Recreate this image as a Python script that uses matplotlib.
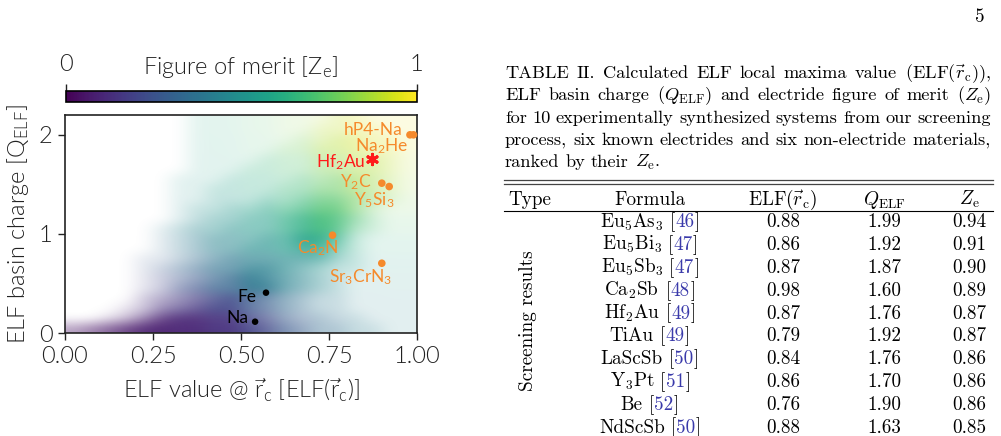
import numpy as np
import matplotlib
matplotlib.use("Agg")
import matplotlib.pyplot as plt
from matplotlib.colors import Normalize
from matplotlib.colorbar import ColorbarBase

W, H = 1001, 436
plt.rcParams['font.family'] = ['Lato', 'DejaVu Sans']
plt.rcParams['font.weight'] = 300
plt.rcParams['mathtext.fontset'] = 'custom'
plt.rcParams['mathtext.rm'] = 'Lato:weight=300'
plt.rcParams['mathtext.it'] = 'Lato:italic:weight=300'
plt.rcParams['mathtext.default'] = 'it'

# ---------------- data ----------------
# background cloud: density (tenths), rows y = 0..2.2 step 0.1 (bottom first), cols x step 0.05
cloud_density = [
    [3,4,5,6,7,8,8,8,8,8,7,6,5,4,3,3,2,2,1,1],
    [0,0,1,2,4,6,7,7,7,7,6,5,4,3,3,2,2,1,1,1],
    [0,0,0,1,2,4,5,6,7,7,6,5,4,3,2,2,1,1,1,1],
    [0,0,0,0,2,3,4,5,6,7,6,5,4,3,2,2,1,1,1,1],
    [0,0,0,0,1,2,4,5,6,6,7,7,5,4,3,2,1,1,1,1],
    [0,0,0,0,1,2,3,4,5,6,7,6,5,4,3,2,1,1,1,1],
    [0,0,0,0,1,2,3,4,5,5,6,6,5,4,3,2,2,1,1,1],
    [0,0,0,0,1,1,2,3,4,5,5,5,5,5,5,3,2,1,1,1],
    [0,0,0,0,0,1,2,3,4,4,5,5,5,6,6,4,2,1,1,1],
    [0,0,0,0,0,1,2,3,4,4,4,5,5,7,7,5,2,1,1,1],
    [0,0,0,0,0,1,2,3,3,4,4,4,5,6,7,6,3,2,1,1],
    [0,0,0,0,0,0,1,2,3,3,4,4,5,6,7,6,4,2,1,1],
    [0,0,0,0,0,0,1,2,2,3,3,4,4,5,6,6,4,2,1,1],
    [0,0,0,0,0,0,1,1,2,2,2,3,3,4,5,5,4,3,2,1],
    [0,0,0,0,0,0,1,1,2,2,2,2,3,3,4,4,4,3,2,1],
    [0,0,0,0,0,0,1,1,1,2,2,2,2,3,3,4,4,3,2,1],
    [0,0,0,0,0,0,0,1,1,1,2,2,2,2,3,3,3,3,2,1],
    [0,0,0,0,0,0,0,1,1,1,1,2,2,2,3,3,3,3,2,1],
    [0,0,0,0,0,0,0,1,1,1,1,1,2,2,3,3,3,2,2,1],
    [0,0,0,0,0,0,0,1,1,1,1,1,1,2,2,3,3,2,2,1],
    [0,0,0,0,0,0,0,1,1,1,1,1,1,1,2,2,2,2,1,1],
    [0,0,0,0,0,0,0,1,1,1,1,1,1,1,1,2,2,1,1,1],
]
# background cloud: figure of merit (hundredths), rows y step 0.2 (bottom first), cols x step 0.1
cloud_ze = [
    [5,6,8,10,14,20,28,35,42,46],
    [8,10,13,16,21,28,35,40,45,48],
    [12,15,20,25,32,40,44,47,50,52],
    [18,22,28,33,38,43,48,52,55,57],
    [25,30,35,40,45,50,56,60,62,64],
    [30,35,42,46,50,55,62,68,70,72],
    [35,40,45,50,53,58,66,72,78,80],
    [40,45,50,53,57,62,68,76,84,86],
    [45,50,53,56,60,66,72,82,88,90],
    [50,53,56,58,62,70,78,88,93,95],
    [52,55,58,60,64,72,82,90,95,97],
]

known_names = ['hP4-Na', r'Na$_\mathregular{2}$He', r'Y$_\mathregular{2}$C',
               r'Y$_\mathregular{5}$Si$_\mathregular{3}$', r'Ca$_\mathregular{2}$N',
               r'Sr$_\mathregular{3}$CrN$_\mathregular{3}$']
known_elf = [0.980, 0.990, 0.900, 0.921, 0.760, 0.900]
known_q = [2.00, 2.00, 1.512, 1.478, 0.987, 0.704]

non_names = ['Fe', 'Na']
non_elf = [0.571, 0.540]
non_q = [0.407, 0.114]

star_name = r'Hf$_\mathregular{2}$Au'
star_elf = [0.871]
star_q = [1.754]

x_ticks = [0.0, 0.25, 0.5, 0.75, 1.0]
x_ticklabels = ['0.00', '0.25', '0.50', '0.75', '1.00']
y_ticks = [0, 1, 2]
y_ticklabels = ['0', '1', '2']

caption_lines = [
    r'TABLE II. Calculated ELF local maxima value (ELF($\vec{r}_\mathrm{c}$)),',
    r'ELF basin charge ($Q_\mathrm{ELF}$) and electride figure of merit ($Z_\mathrm{e}$)',
    r'for 10 experimentally synthesized systems from our screening',
    r'process, six known electrides and six non-electride materials,',
    r'ranked by their $Z_\mathrm{e}$.',
]
table_header = ['Type', 'Formula', r'ELF($\vec{r}_\mathrm{c}$)', r'$Q_\mathrm{ELF}$', r'$Z_\mathrm{e}$']
table_type = 'Screening results'
formulas = ['Eu$_5$As$_3$', 'Eu$_5$Bi$_3$', 'Eu$_5$Sb$_3$', 'Ca$_2$Sb', 'Hf$_2$Au',
            'TiAu', 'LaScSb', 'Y$_3$Pt', 'Be', 'NdScSb']
refs = ['46', '47', '47', '48', '49', '49', '50', '51', '52', '50']
elf_vals = [0.88, 0.86, 0.87, 0.98, 0.87, 0.79, 0.84, 0.86, 0.76, 0.88]
q_vals = [1.99, 1.92, 1.87, 1.60, 1.76, 1.92, 1.76, 1.70, 1.90, 1.63]
ze_vals = [0.94, 0.91, 0.90, 0.89, 0.87, 0.87, 0.86, 0.86, 0.86, 0.85]
page_number = '5'

# ---------------- figure ----------------
fig = plt.figure(figsize=(W / 100, H / 100), dpi=100)
pax = fig.add_axes([0, 0, 1, 1])
pax.set_xlim(0, W)
pax.set_ylim(H, 0)
pax.axis('off')

def frac(x0, y_top, w, h):
    return [x0 / W, 1 - (y_top + h) / H, w / W, h / H]

ax = fig.add_axes(frac(65, 115, 352, 218))
ORANGE = '#f58a2c'
RED = '#ff1a1a'
GREY = '#222222'

dens = np.array(cloud_density, dtype=float) / 10.0
ze = np.repeat(np.repeat(np.array(cloud_ze, dtype=float) / 100.0, 2, axis=0), 2, axis=1)
rgba = plt.cm.viridis(ze)
rgba[..., 3] = np.clip(dens * 1.3, 0, 0.95)
ax.imshow(rgba, extent=(0, 1, 0, 2.2), origin='lower', aspect='auto',
          interpolation='bicubic', zorder=1)

ax.scatter(known_elf, known_q, s=30, color=ORANGE, edgecolors='none', zorder=4, clip_on=False)
ax.scatter(non_elf, non_q, s=22, color='black', edgecolors='none', zorder=4)
ax.scatter(star_elf, star_q, s=55, marker=(6, 2, 0), color=RED, linewidths=2.2, zorder=4)

LBL = dict(fontsize=12.5, ha='right', va='baseline', zorder=5, fontweight='normal')
label_pos = [  # right edge x, baseline y (data coords), same order as known_names
    (0.960, 2.000),
    (0.975, 1.835),
    (0.871, 1.472),
    (0.937, 1.286),
    (0.777, 0.805),
    (0.928, 0.512),
]
for n, (x, y) in zip(known_names, label_pos):
    ax.text(x, y, n, color=ORANGE, **LBL)
ax.text(0.852, 1.674, star_name, color=RED, **LBL)
for n, (x, y) in zip(non_names, [(0.543, 0.31), (0.521, 0.104)]):
    ax.text(x, y, n, color='black', **LBL)

ax.set_xlim(0, 1)
ax.set_ylim(0, 2.2)
ax.set_xticks(x_ticks)
ax.set_xticklabels(x_ticklabels)
ax.set_yticks(y_ticks)
ax.set_yticklabels(y_ticklabels)
ax.tick_params(labelsize=17, length=5, width=1, pad=4, colors=GREY, labelcolor=GREY)
for s in ax.spines.values():
    s.set_linewidth(1.2)
    s.set_color('#222222')

fig.text(18 / W, 1 - 224 / H, r'ELF basin charge [$\mathrm{Q}_\mathrm{ELF}$]', rotation=90,
         ha='center', va='center', fontsize=17, color=GREY)
fig.text(241 / W, 1 - 398 / H, r'ELF value @ $\vec{\mathrm{r}}_\mathrm{c}$ [ELF($\vec{\mathrm{r}}_\mathrm{c}$)]',
         ha='center', va='baseline', fontsize=17, color=GREY)

cax = fig.add_axes(frac(65.7, 90.7, 351, 11.6))
cb = ColorbarBase(cax, cmap=plt.cm.viridis, norm=Normalize(0, 1), orientation='horizontal')
cb.set_ticks([0, 1])
cb.set_ticklabels(['0', '1'])
cax.xaxis.set_ticks_position('top')
cax.tick_params(labelsize=17, length=5, width=1, pad=6, colors=GREY, labelcolor=GREY)
cb.outline.set_linewidth(1.2)
fig.text(241 / W, 1 - 67 / H, r'Figure of merit [$\mathrm{Z}_\mathrm{e}$]', ha='center', va='center',
         fontsize=17, color=GREY)

# ---------------- table (page) ----------------
CAP = dict(family='cmr10', math_fontfamily='cm', fontsize=13.2, fontweight='normal', color='black')
TXT = dict(family='cmr10', math_fontfamily='cm', fontsize=13.8, fontweight='normal', color='black')
renderer = fig.canvas.get_renderer()

def place_words(words, x0, x1, y, justify=True, space=6.0):
    ts = [pax.text(0, y, w, va='baseline', ha='left', **CAP) for w in words]
    ws = [t.get_window_extent(renderer).width for t in ts]
    gap = (x1 - x0 - sum(ws)) / (len(ws) - 1) if justify else space
    x = x0
    for t, w in zip(ts, ws):
        t.set_x(x)
        x += w + gap

cap_base = [78, 100.3, 122.6, 144.9, 167.2]
for i, line in enumerate(caption_lines):
    place_words(line.split(' '), 505, 991, cap_base[i], justify=(i < len(caption_lines) - 1))

pax.plot([504, 993], [180.3, 180.3], color='#444444', lw=0.9)
pax.plot([504, 993], [183.8, 183.8], color='#444444', lw=0.9)
pax.plot([504, 993], [211.0, 211.0], color='black', lw=0.8)

col_x = [530, 650, 783, 884, 969]
for cx, h in zip(col_x, table_header):
    pax.text(cx, 204.5, h, ha='center', va='baseline', **TXT)

def place_pieces(pieces, xc, y, gaps):
    ts = [pax.text(0, y, s, color=c, va='baseline', ha='left',
                   **{k: v for k, v in TXT.items() if k != 'color'}) for s, c in pieces]
    ws = [t.get_window_extent(renderer).width for t in ts]
    total = sum(ws) + sum(gaps)
    x = xc - total / 2
    for i, (t, w) in enumerate(zip(ts, ws)):
        t.set_x(x)
        x += w + (gaps[i] if i < len(gaps) else 0)

BLUE = '#3a3aaa'
row0, dy = 227.3, 22.8
for i in range(len(formulas)):
    y = row0 + i * dy
    place_pieces([(formulas[i], 'black'), ('[', 'black'), (refs[i], BLUE), (']', 'black')],
                 col_x[1], y, [6.0, 0.3, 0.3])
    pax.text(col_x[2], y, f'{elf_vals[i]:.2f}', ha='center', va='baseline', **TXT)
    pax.text(col_x[3], y, f'{q_vals[i]:.2f}', ha='center', va='baseline', **TXT)
    pax.text(col_x[4], y, f'{ze_vals[i]:.2f}', ha='center', va='baseline', **TXT)

pax.text(528, 321, table_type, rotation=90, ha='center', va='center', **TXT)
pax.text(979.5, 21.7, page_number, ha='center', va='baseline', **TXT)

fig.savefig('out.png', dpi=100)
